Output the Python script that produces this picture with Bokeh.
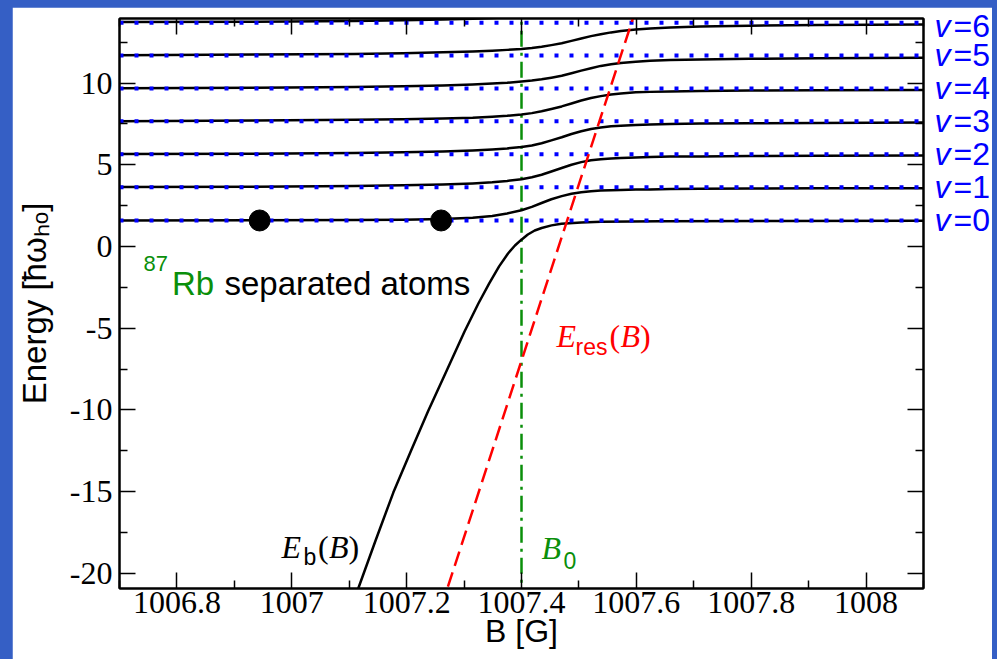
import numpy as np
from bokeh.plotting import figure
from bokeh.models import Range1d, FixedTicker, LinearAxis, Label
from bokeh.layouts import column
from bokeh.embed import file_html
from bokeh.resources import INLINE

# ---------------- data ----------------
level_v = [0, 1, 2, 3, 4, 5, 6]
level_E = [1.59, 3.63, 5.65, 7.67, 9.67, 11.69, 13.69]

B_grid = [1006.700, 1006.936, 1007.108, 1007.194, 1007.263, 1007.315, 1007.349, 1007.375,
          1007.400, 1007.418, 1007.435, 1007.452, 1007.470, 1007.487, 1007.504, 1007.521,
          1007.538, 1007.556, 1007.573, 1007.599, 1007.624, 1007.659, 1007.711, 1007.797,
          1007.917, 1008.100]
curve_v0 = [1.59, 1.60, 1.62, 1.64, 1.68, 1.76, 1.87, 2.02, 2.22, 2.42, 2.66, 2.89, 3.08,
            3.23, 3.32, 3.38, 3.42, 3.44, 3.46, 3.48, 3.49, 3.51, 3.53, 3.54, 3.56, 3.57]
curve_v1 = [3.64, 3.66, 3.70, 3.74, 3.79, 3.86, 3.93, 4.01, 4.11, 4.24, 4.39, 4.59, 4.80,
            5.00, 5.16, 5.27, 5.34, 5.39, 5.42, 5.45, 5.48, 5.50, 5.51, 5.53, 5.55, 5.57]
curve_v2 = [5.66, 5.68, 5.72, 5.76, 5.81, 5.88, 5.94, 6.00, 6.09, 6.18, 6.32, 6.49, 6.68,
            6.88, 7.05, 7.19, 7.28, 7.35, 7.39, 7.44, 7.47, 7.49, 7.52, 7.54, 7.56, 7.58]
curve_v3 = [7.67, 7.71, 7.75, 7.78, 7.83, 7.88, 7.94, 8.00, 8.08, 8.16, 8.27, 8.41, 8.57,
            8.75, 8.93, 9.08, 9.20, 9.30, 9.36, 9.43, 9.46, 9.49, 9.52, 9.54, 9.56, 9.58]
curve_v4 = [9.68, 9.72, 9.76, 9.80, 9.85, 9.91, 9.97, 10.02, 10.09, 10.15, 10.23, 10.33, 10.45,
            10.60, 10.76, 10.91, 11.05, 11.15, 11.23, 11.31, 11.37, 11.41, 11.44, 11.48, 11.51, 11.55]
curve_v5 = [11.70, 11.74, 11.78, 11.82, 11.88, 11.93, 11.98, 12.03, 12.08, 12.14, 12.22, 12.32, 12.44,
            12.58, 12.73, 12.87, 12.99, 13.10, 13.18, 13.27, 13.34, 13.40, 13.46, 13.51, 13.55, 13.59]
curve_v6 = [13.73, 13.75, 13.80, 13.84, 13.89, 13.94, 13.98, 14.02, 14.06, 14.11, 14.17, 14.24, 14.32,
            14.41, 14.50, 14.59, 14.66, 14.73, 14.77, 14.83, 14.87, 14.91, 14.95, 14.98, 15.01, 15.03]

Eb_B = [1007.1080, 1007.1157, 1007.1459, 1007.1768, 1007.2078, 1007.2371, 1007.2698, 1007.3008,
        1007.3249, 1007.3438, 1007.3610, 1007.3765, 1007.3886, 1007.3994, 1007.4110, 1007.4230,
        1007.4351, 1007.4523, 1007.4695, 1007.5039, 1007.5384, 1007.6417, 1007.8482, 1008.0996]
Eb_E = [-21.66, -20.93, -17.99, -15.06, -12.48, -10.10, -7.59, -5.20,
        -3.49, -2.26, -1.22, -0.43, 0.06, 0.40, 0.73, 0.98,
        1.13, 1.29, 1.39, 1.47, 1.51, 1.55, 1.56, 1.57]

Eres_B = [1007.260, 1007.600]
Eres_E = [-22.1, 14.6]

B0 = 1007.4
atoms_B = [1006.944, 1007.260]
atoms_E = [1.59, 1.59]

x_ticks = [1006.8, 1007.0, 1007.2, 1007.4, 1007.6, 1007.8, 1008.0]
x_tick_labels = ["1006.8", "1007", "1007.2", "1007.4", "1007.6", "1007.8", "1008"]
x_minor = [1006.7, 1006.9, 1007.1, 1007.3, 1007.5, 1007.7, 1007.9, 1008.1]
y_ticks = [-20, -15, -10, -5, 0, 5, 10]
y_tick_labels = ["-20", "-15", "-10", "-5", "0", "5", "10"]
y_minor = [-17.5, -12.5, -7.5, -2.5, 2.5, 7.5, 12.5]

x_title = "B [G]"
y_title = "Energy [ħωₕₒ]"

# ---------------- styling ----------------
BG = "#355fc5"
GREEN = "#0a8f0a"
RED = "#ff0000"
BLUE = "#0000ff"
SANS = "Liberation Sans"
SERIF = "Liberation Serif"

X0, X1 = 1006.7, 1008.1
Y0, Y1 = -20.93, 13.95

W, H = 980, 652
ML, MR, MT, MB = 101, 66, 11, 71
OFFX, OFFY = 12, 7
FW, FH = W - ML - MR, H - MT - MB
FL = OFFX + ML           # page x of frame left
FB = OFFY + MT + FH      # page y of frame bottom

p = figure(width=W, height=H, x_range=Range1d(X0, X1), y_range=Range1d(Y0, Y1),
           output_backend="svg", toolbar_location=None,
           min_border_left=ML, min_border_right=MR, min_border_top=MT, min_border_bottom=MB,
           background_fill_color="white", border_fill_color="white",
           outline_line_color="black", outline_line_width=2)
p.xgrid.visible = False
p.ygrid.visible = False

xt = FixedTicker(ticks=x_ticks, minor_ticks=x_minor)
yt = FixedTicker(ticks=y_ticks, minor_ticks=y_minor)


def style_axis(ax, labels, standoff):
    ax.axis_line_color = "black"
    ax.axis_line_width = 2
    ax.major_tick_in = 16
    ax.major_tick_out = 0
    ax.minor_tick_in = 8
    ax.minor_tick_out = 0
    ax.major_tick_line_width = 1.5
    ax.minor_tick_line_width = 1.5
    ax.major_tick_line_color = "black"
    ax.minor_tick_line_color = "black"
    if labels:
        ax.major_label_text_font = SERIF
        ax.major_label_text_font_size = "32px"
        ax.major_label_text_color = "black"
        ax.major_label_standoff = standoff
    else:
        ax.major_label_text_font_size = "0px"
        ax.major_label_standoff = 0
        ax.major_label_text_alpha = 0


xa = p.xaxis[0]
xa.ticker = xt
xa.major_label_overrides = dict(zip(x_ticks, x_tick_labels))
style_axis(xa, True, 3)
xa.axis_label = x_title
xa.axis_label_text_font = SANS
xa.axis_label_text_font_size = "32px"
xa.axis_label_text_font_style = "normal"
xa.axis_label_text_color = "black"
xa.axis_label_standoff = -3

ya = p.yaxis[0]
ya.ticker = yt
ya.major_label_overrides = dict(zip(y_ticks, y_tick_labels))
style_axis(ya, True, 7)
ya.axis_label = y_title
ya.axis_label_text_font = SANS
ya.axis_label_text_font_size = "33px"
ya.axis_label_text_font_style = "normal"
ya.axis_label_text_color = "black"
ya.axis_label_standoff = 14

top = LinearAxis(ticker=xt)
style_axis(top, False, 0)
p.add_layout(top, "above")
right = LinearAxis(ticker=yt)
style_axis(right, False, 0)
p.add_layout(right, "right")


# level labels "v=k" on the right, as tick labels of two bare axes
def bare_axis(labels, standoff, style):
    ax = LinearAxis(ticker=FixedTicker(ticks=level_E, minor_ticks=[]))
    ax.major_label_overrides = dict(zip(level_E, labels))
    ax.axis_line_color = None
    ax.major_tick_line_color = None
    ax.minor_tick_line_color = None
    ax.major_tick_in = 0
    ax.major_tick_out = 0
    ax.minor_tick_in = 0
    ax.minor_tick_out = 0
    ax.major_label_standoff = standoff
    ax.major_label_text_font = SANS
    ax.major_label_text_font_size = "32px"
    ax.major_label_text_font_style = style
    ax.major_label_text_color = BLUE
    return ax


p.add_layout(bare_axis(["v"] * len(level_v), 11, "italic"), "right")
p.add_layout(bare_axis([f"={v}" for v in level_v], 0, "normal"), "right")

# ---------------- glyphs ----------------
p.line([B0, B0], [Y0 - 1, Y1 + 1], line_color=GREEN, line_width=2.5, line_dash="16 6 3 6")

for c in [curve_v0, curve_v1, curve_v2, curve_v3, curve_v4, curve_v5, curve_v6]:
    p.line(B_grid, c, line_color="black", line_width=2.5, line_join="round")
p.line(Eb_B, Eb_E, line_color="black", line_width=2.5, line_join="round")

for e in level_E:
    p.line([X0, X1], [e, e], line_color=BLUE, line_width=4, line_dash="4 11")

p.line(Eres_B, Eres_E, line_color=RED, line_width=2.5, line_dash="15 7")

p.scatter(atoms_B, atoms_E, size=21, marker="circle", fill_color="black", line_color="black")


# ---------------- texts inside the frame ----------------
def lab(text, px, py, font=SANS, size=32, color="black", style="normal"):
    p.add_layout(Label(x=px - FL, y=FB - py, x_units="screen", y_units="screen",
                       text=text, text_font=font, text_font_size=f"{size}px",
                       text_color=color, text_font_style=style, text_align="left",
                       text_baseline="alphabetic"))


lab("87", 137, 262.5, SANS, 22, GREEN)
lab("Rb", 165.5, 282.7, SANS, 33, GREEN)
lab("separated atoms", 218, 282.7, SANS, 33, "black")

lab("E", 275, 546, SERIF, 32, "black", "italic")
lab("b", 297, 556, SANS, 23, "black")
lab("(", 311.5, 546, SERIF, 32, "black")
lab("B", 322.5, 546, SERIF, 32, "black", "italic")
lab(")", 342, 546, SERIF, 32, "black")

lab("E", 550, 335, SERIF, 32, RED, "italic")
lab("res", 569, 346, SANS, 23, RED)
lab("(", 603, 335, SERIF, 32, RED)
lab("B", 614, 335, SERIF, 32, RED, "italic")
lab(")", 633.5, 335, SERIF, 32, RED)

lab("B", 535, 547, SERIF, 32, GREEN, "italic")
lab("0", 557, 560, SANS, 23, GREEN)

lay = column(p, styles={"background-color": BG,
                        "padding": f"{OFFY}px 5px 0px {OFFX}px"})

open("out.html", "w").write(file_html(lay, INLINE))
